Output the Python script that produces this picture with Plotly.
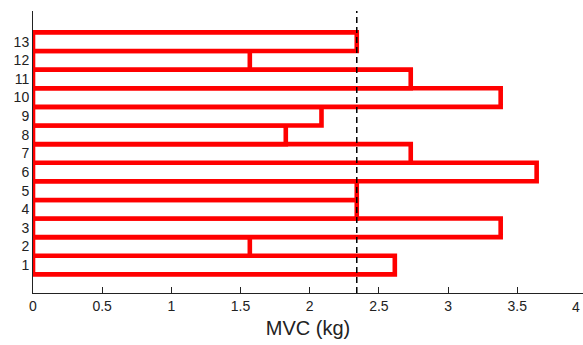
import numpy as np
import plotly.graph_objects as go

subjects = list(range(1, 14))
mvc_kg = [2.615, 1.567, 3.38, 2.34, 2.34, 3.64, 2.73, 1.827, 2.085, 3.38, 2.73, 1.567, 2.34]
x_tick_vals = [0, 0.5, 1, 1.5, 2, 2.5, 3, 3.5]
x_tick_text = ["0", "0.5", "1", "1.5", "2", "2.5", "3", "3.5"]
x_title = "MVC (kg)"
x_max_shown = 3.975

median_val = float(np.median(mvc_kg))

fig = go.Figure()
fig.add_trace(go.Bar(
    y=subjects, x=mvc_kg, orientation="h", width=1,
    marker=dict(color="white", line=dict(color="#ff0000", width=4.6)),
    hoverinfo="skip",
))

fig.add_shape(type="line", xref="x", yref="paper",
              x0=median_val, x1=median_val, y0=0, y1=1,
              line=dict(color="black", width=1.5, dash="6px,4px"))

# tick label "4" at the right edge of the picture
fig.add_annotation(x=1, y=0, xref="paper", yref="paper", text="4", showarrow=False,
                   yanchor="top", yshift=-4, xanchor="right", xshift=-1,
                   font=dict(family="Liberation Sans, Arial", size=14, color="#222"))

fig.update_layout(
    width=583, height=345,
    margin=dict(l=33, r=0, t=11, b=52),
    paper_bgcolor="white", plot_bgcolor="white",
    showlegend=False,
    font=dict(family="Liberation Sans, Arial", size=14, color="#222"),
    xaxis=dict(range=[0, x_max_shown], tickvals=x_tick_vals, ticktext=x_tick_text,
               ticks="inside", ticklen=6, tickcolor="#222", tickwidth=1,
               showline=True, linecolor="#222", linewidth=1, mirror=False,
               showgrid=False, zeroline=False, layer="below traces",
               title=dict(text=x_title, font=dict(size=20, color="#222"), standoff=8),
               fixedrange=True),
    yaxis=dict(range=[-0.5, 14.65], tickvals=subjects, ticktext=[str(s) for s in subjects],
               ticks="inside", ticklen=6, tickcolor="#222", tickwidth=1,
               showline=True, linecolor="#222", linewidth=1,
               showgrid=False, zeroline=False, layer="below traces",
               fixedrange=True),
)

fig.write_html("out.html")
